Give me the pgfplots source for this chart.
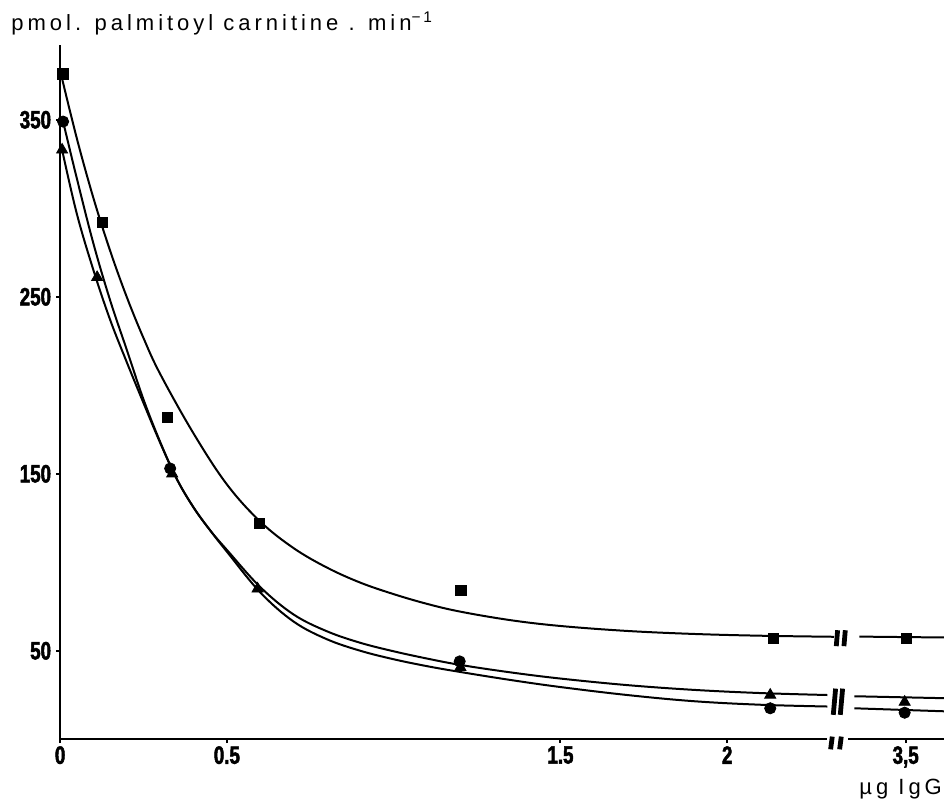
\documentclass[border=0pt]{standalone}
\usepackage{fontspec}
\setmainfont{Liberation Sans}
\newfontfamily\tickfont[FakeStretch=0.75,FakeBold=2]{Liberation Sans}
\newfontfamily\lsfont[LetterSpace=18]{Liberation Sans}
\usepackage{pgfplots}
\pgfplotsset{compat=1.18}
\begin{document}
\begin{tikzpicture}
\begin{axis}[
  scale only axis, width=441.2bp, height=346.3bp,
  xmin=0, xmax=2.65, ymin=0, ymax=392,
  axis lines=left, axis line style={-, line width=1pt},
  x axis line style={draw=none},
  clip=false,
  xtick={0,0.5,1.5,2,2.535}, xticklabels={0,0.5,1.5,2,{3,5}},
  ytick={50,150,250,350}, yticklabels={50,150,250,350},
  tick style={black, line width=1pt}, major tick length=2pt, tick align=outside,
  ticklabel style={font=\tickfont\bfseries\fontsize{12.5bp}{14bp}\selectfont},
  xticklabel style={yshift=2bp},
  yticklabel style={xshift=1bp},
]
% fitted curves (squares)
\addplot[black, line width=1pt, smooth, tension=0.6] coordinates {
(0.005,374)(0.05,339.6)(0.1,305.7)(0.15,276)(0.2,249.8)(0.25,226.7)(0.3,206.4)(0.4,172.8)(0.5,144)(0.6,123)(0.7,108)(0.8,97)(0.9,88.5)(1.0,82)(1.1,76.5)(1.2,72.1)(1.35,67.3)(1.5,64)(1.7,61.2)(1.9,59.5)(2.1,58.5)(2.32,57.9)};
\addplot[black, line width=1pt] coordinates {(2.396,58)(2.65,57.5)};
% triangles
\addplot[black, line width=1pt, smooth, tension=0.6] coordinates {
(0.006,333)(0.05,297)(0.1,265)(0.15,237)(0.2,213)(0.25,190)(0.3,167.5)(0.35,147)(0.4,131)(0.45,118)(0.5,107)(0.6,86)(0.7,70.5)(0.8,61)(0.9,54.5)(1.0,49.7)(1.1,45.6)(1.2,42)(1.35,37.8)(1.5,34.3)(1.7,30.6)(1.9,27.9)(2.1,26.1)(2.3,25)};
\addplot[black, line width=1pt] coordinates {(2.381,24.3)(2.65,23.2)};
% circles
\addplot[black, line width=1pt, smooth, tension=0.6] coordinates {
(0.009,349)(0.05,317)(0.1,280)(0.15,248)(0.2,220)(0.25,192)(0.3,168)(0.35,147)(0.4,131)(0.45,118)(0.5,106)(0.6,83)(0.7,66.5)(0.8,56.5)(0.9,50)(1.0,45.2)(1.1,41.3)(1.2,38)(1.35,33.5)(1.5,29.5)(1.7,25)(1.9,21.5)(2.1,19.5)(2.3,18.5)};
\addplot[black, line width=1pt] coordinates {(2.381,17.5)(2.65,15.8)};
% x axis with break
\addplot[black, line width=1pt] coordinates {(0,0)(2.30,0)};
\addplot[black, line width=1pt] coordinates {(2.363,0)(2.65,0)};
% data points
\addplot[only marks, mark=square*, mark size=2.6bp, black] coordinates {
(0.009,376)(0.126,292)(0.321,182)(0.598,122)(1.201,84)(2.138,57)(2.538,57)};
\addplot[only marks, mark=*, mark size=2.8bp, black] coordinates {
(0.009,349)(0.330,153)(1.198,44)(2.129,17.5)(2.532,15)};
\addplot[only marks, mark=triangle*, mark size=3.2bp, black] coordinates {
(0.006,333)(0.111,261)(0.336,150)(0.592,85)(1.2,40.7)(2.129,25)(2.532,21)};
% break marks
\draw[line width=2.4pt] (axis cs:2.327,52.6) -- (axis cs:2.331,61.6);
\draw[line width=2.4pt] (axis cs:2.350,52.6) -- (axis cs:2.354,61.6);
\draw[line width=2.4pt] (axis cs:2.318,13.8) -- (axis cs:2.325,28.6);
\draw[line width=2.4pt] (axis cs:2.339,13.8) -- (axis cs:2.346,28.6);
\draw[line width=2.4pt] (axis cs:2.310,-5.7) -- (axis cs:2.315,1.5);
\draw[line width=2.4pt] (axis cs:2.337,-5.7) -- (axis cs:2.342,1.5);
% texts
\node[anchor=base west, inner sep=0, font=\lsfont\fontsize{11bp}{13bp}\selectfont] at (axis cs:-0.147,400.7) {pmol. palmitoyl carnitine . min\textsuperscript{−1}};
\node[anchor=base, inner sep=0, font=\lsfont\fontsize{11bp}{13bp}\selectfont] at (axis cs:2.52,-31) {µg IgG};
\coordinate (bl) at (axis cs:-0.1802,-34.5);
\coordinate (tr) at (axis cs:2.65,417.7);
\end{axis}
\pgfresetboundingbox
\path[use as bounding box] (bl) rectangle (tr);
\end{tikzpicture}
\end{document}
